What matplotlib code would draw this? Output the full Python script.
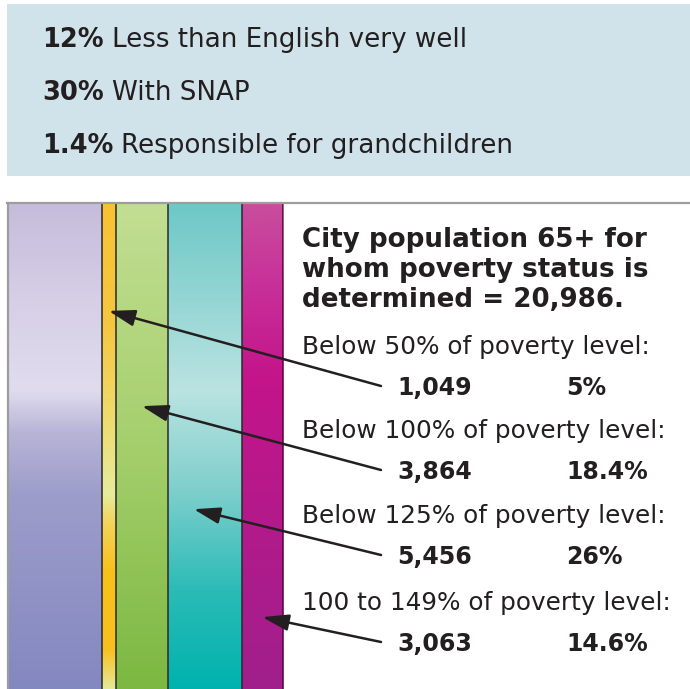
import numpy as np
import matplotlib
matplotlib.use('Agg')
import matplotlib.pyplot as plt
from matplotlib.colors import LinearSegmentedColormap
from matplotlib.patches import Rectangle

# ---- data ----
top_values = ['12%', '30%', '1.4%']
top_labels = ['Less than English very well', 'With SNAP', 'Responsible for grandchildren']

total_65 = 20986
poverty_labels = ['Below 50% of poverty level:', 'Below 100% of poverty level:',
                  'Below 125% of poverty level:', '100 to 149% of poverty level:']
poverty_counts = [1049, 3864, 5456, 3063]
poverty_pcts = [5, 18.4, 26, 14.6]
other_pct = 33  # lavender band

# ---- styles ----
plt.rcParams['font.family'] = ['DejaVu Sans']
ink = '#231f20'
band_colors = [
    [(0, '#c5bcdb'), (0.2, '#d6cfe6'), (0.385, '#e0dcee'), (0.47, '#b9b5d8'),
     (0.6, '#9d9dcb'), (1, '#8488c0')],
    [(0, '#f9c233'), (0.25, '#f6c640'), (0.45, '#eedc70'), (0.6, '#e6ec9c'),
     (0.66, '#f3d35a'), (0.76, '#f8c01a'), (0.92, '#f8c020'), (1, '#e3ea98')],
    [(0, '#c2de93'), (0.5, '#a5cf6c'), (1, '#7cb842')],
    [(0, '#6dc8c6'), (0.385, '#bae3e1'), (0.59, '#7fcfcc'), (0.8, '#2bbbb6'), (1, '#00b2ae')],
    [(0, '#c84e9c'), (0.15, '#c8339a'), (0.36, '#c4148a'), (1, '#a0208c')],
]
tip_frac = [0.5, 0.5, 0.35, 0.5]
tip_y = [0.778, 0.582, 0.370, 0.148]
row_y = [354, 438, 523, 610]

W, H = 690, 689
fig = plt.figure(figsize=(W / 100, H / 100), dpi=100)

# bars axes (x in percent)
bax = fig.add_axes([8 / W, 0, (283 - 8) / W, (H - 203) / H])
widths = [other_pct] + poverty_pcts
lefts = np.concatenate([[0], np.cumsum(widths)[:-1]])
grad = np.linspace(1, 0, 256).reshape(-1, 1)
for i in range(len(widths)):
    cmap = LinearSegmentedColormap.from_list('b%d' % i, band_colors[i])
    bax.imshow(1 - grad, cmap=cmap, aspect='auto', vmin=0, vmax=1,
               extent=(lefts[i], lefts[i] + widths[i], 0, 1), interpolation='bilinear')
    if i > 0:
        bax.axvline(lefts[i], color='#2a2a2a', lw=1.1)
bax.axvline(lefts[-1] + widths[-1], color='#2a2a2a', lw=1.3)
bax.set_xlim(0, sum(widths))
bax.set_ylim(0, 1)
bax.axis('off')

# overlay axes in pixel units
ax = fig.add_axes([0, 0, 1, 1])
ax.set_xlim(0, W)
ax.set_ylim(H, 0)
ax.axis('off')

# top box
ax.add_patch(Rectangle((7, 4), W - 7, 172, color='#d0e3ea', lw=0))
for k in range(len(top_values)):
    t = ax.text(42, 47 + 53 * k, top_values[k], fontsize=18.5, fontweight='bold',
                color=ink, va='baseline')
    ax.annotate(top_labels[k], xy=(1, 0), xycoords=t, xytext=(8, 0),
                textcoords='offset pixels', fontsize=18.8, color=ink, va='bottom')

# frame of the bar area
ax.plot([7, W], [203, 203], color='#9d9d9d', lw=1.6)
ax.plot([8, 8], [203, H], color='#9d9d9d', lw=1.6)

# title
title = ['City population 65+ for', 'whom poverty status is',
         'determined = %s.' % format(total_65, ',')]
for k, line in enumerate(title):
    ax.text(302, 247 + 30 * k, line, fontsize=18.8, fontweight='bold', color=ink, va='baseline')

for k in range(len(poverty_labels)):
    ax.text(302, row_y[k], poverty_labels[k], fontsize=17.8, color=ink, va='baseline')
    ny = row_y[k] + 41
    ax.text(397, ny, format(poverty_counts[k], ','), fontsize=17, fontweight='bold',
            color=ink, va='baseline')
    ax.text(566, ny, '%g%%' % poverty_pcts[k], fontsize=17, fontweight='bold',
            color=ink, va='baseline')
    xb = lefts[k + 1] + widths[k + 1] * tip_frac[k]
    ax.annotate('', xy=(xb, tip_y[k]), xycoords=bax.transData,
                xytext=(381, ny - 9), textcoords='data',
                arrowprops=dict(arrowstyle='-|>,head_length=1.6,head_width=0.5',
                                mutation_scale=10, lw=1.8, color=ink,
                                shrinkA=0, shrinkB=0))

plt.savefig('out.png', dpi=100)
